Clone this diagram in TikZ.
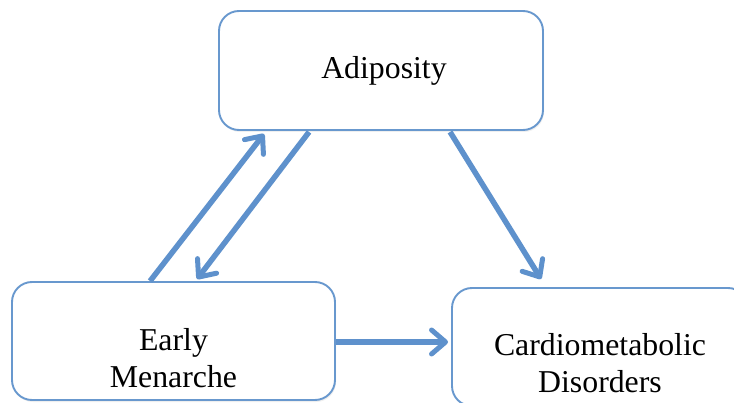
\documentclass[tikz,border=0pt]{standalone}
\usepackage{fontspec}
\setmainfont{Liberation Serif}
\usetikzlibrary{arrows.meta,shadows}
\definecolor{boxline}{RGB}{104,152,206}
\definecolor{arrowc}{RGB}{94,145,204}
\tikzset{
  box/.style={draw=boxline, line width=1.9pt, rounded corners=20pt, fill=white,
    drop shadow={opacity=0.12, shadow xshift=1pt, shadow yshift=-2pt}},
  lbl/.style={font=\fontsize{31.8}{37}\selectfont, align=center, inner sep=0pt},
  conn/.style={draw=arrowc, line width=5.5pt,
    -{Straight Barb[length=14pt, width=24pt, line width=5pt, round]}}
}
\begin{document}
\begin{tikzpicture}[x=1pt,y=1pt]
\clip (0,0) rectangle (734,402);
\fill[white] (0,0) rectangle (734,402);
% boxes
\node[box, minimum width=324pt, minimum height=119pt] (adip) at (381,331.5) {};
\node[box, minimum width=323pt, minimum height=118pt] (em) at (173.5,61) {};
\node[box, minimum width=296pt, minimum height=118pt] (cd) at (600,55) {};
% texts
\node[lbl] (tadip) at (384,331) {Adiposity};
\node[lbl] (tem) at (173.5,43.5) {Early\\Menarche};
\node[lbl] (tcd) at (600,38.5) {Cardiometabolic\\Disorders};
% connectors
\draw[conn] ([xshift=139pt]em.north west) -- ([xshift=46pt,yshift=-3pt]adip.south west);
\draw[conn] ([xshift=91pt,yshift=-1pt]adip.south west) -- ([xshift=186pt,yshift=2pt]em.north west);
\draw[conn] ([xshift=232pt,yshift=-1pt]adip.south west) -- ([xshift=90pt,yshift=8pt]cd.north west);
\draw[conn] ([yshift=-1pt]em.east) -- ([xshift=-3pt,yshift=-1pt]em.east -| cd.west);
\end{tikzpicture}
\end{document}
